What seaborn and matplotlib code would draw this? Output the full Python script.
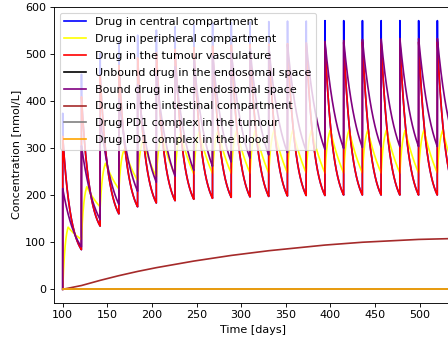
import numpy as np
import pandas as pd
import matplotlib
matplotlib.use("Agg")
import matplotlib.pyplot as plt
import seaborn as sns

# Dosing schedule (every 21 days) and per-cycle peak / trough concentrations [nmol/L]
dose_days = [100, 121, 142, 163, 184, 205, 226, 247, 268, 289, 310,
             331, 352, 373, 394, 415, 436, 457, 478, 499, 520]
cycle_len = 21

central_peak = [374, 457, 501, 524, 540, 551, 558, 562, 565, 567, 568,
                569, 570, 570, 571, 571, 571, 571, 571, 571, 571]

peripheral_peak = [132, 218, 268, 298, 316, 326, 331, 334, 336, 337, 338,
                   338, 338, 338, 338, 338, 338, 338, 338, 338, 338]
peripheral_trough = [106, 175, 213, 231, 239, 243, 245, 246, 246, 247, 247,
                     247, 247, 247, 247, 247, 247, 247, 247, 247, 247]

vasc_peak = [325, 409, 453, 476, 492, 503, 510, 514, 517, 519, 520,
             521, 522, 523, 524, 525, 526, 526, 526, 526, 526]
vasc_trough = [84, 134, 160, 175, 183, 188, 191, 193, 195, 196, 197,
               198, 199, 199, 200, 200, 200, 200, 200, 200, 200]

bound_peak = [214, 305, 365, 405, 435, 457, 473, 486, 496, 504, 511,
              516, 520, 524, 527, 529, 531, 532, 533, 533, 533]
bound_trough = [90, 148, 180, 208, 227, 240, 252, 261, 270, 278, 285,
                290, 294, 297, 299, 301, 302, 303, 303, 303, 303]

# Slowly accumulating intestinal compartment, sampled at each dose day
gut_days = dose_days + [541]
gut_conc = [0, 8, 19, 29, 38, 46, 53, 60, 66, 72, 77,
            82, 86, 90, 94, 97, 100, 102, 104, 106, 107, 108]

# Compartments that stay at zero over the whole run
zero_days = [100, 541]
unbound_endo = [0, 0]
pd1_tumour = [0, 0]
pd1_blood = [0, 0]

labels = ["Drug in central compartment", "Drug in peripheral compartment",
          "Drug in the tumour vasculature", "Unbound drug in the endosomal space",
          "Bound drug in the endosomal space", "Drug in the intestinal compartment",
          "Drug PD1 complex in the tumour", "Drug PD1 complex in the blood"]
colors = ["blue", "yellow", "red", "black", "purple", "brown", "grey", "orange"]


def washout(peak, trough, k, t):
    """Exponential elimination from the post-dose peak to the pre-dose trough."""
    tail = np.exp(-k * cycle_len)
    return trough + (peak - trough) * (np.exp(-k * t) - tail) / (1 - tail)


def uptake(start, peak, trough, t, t_peak=6.0, ka=0.35, k=0.03):
    """Delayed distribution into the peripheral compartment."""
    rise = start + (peak - start) * (1 - np.exp(-ka * t)) / (1 - np.exp(-ka * t_peak))
    fall = washout(peak, trough, k, np.clip(t - t_peak, 0, None) * cycle_len / (cycle_len - t_peak))
    return np.where(t <= t_peak, rise, fall)


t = np.arange(0, cycle_len, 0.1)
time, central, periph, vasc, bound = [], [], [], [], []
time.append(dose_days[0] - 0.01)
central.append(0.0); vasc.append(0.0); bound.append(0.0)
periph_time = []
for i, d in enumerate(dose_days):
    v = washout(vasc_peak[i], vasc_trough[i], 0.11, t)
    c = v.copy()
    c[0] = central_peak[i]
    b = washout(bound_peak[i], bound_trough[i], 0.065, t)
    start = 0.0 if i == 0 else peripheral_trough[i - 1]
    p = uptake(start, peripheral_peak[i], peripheral_trough[i], t)
    time.extend(d + t)
    central.extend(c); vasc.extend(v); bound.extend(b)
    periph_time.extend(d + t); periph.extend(p)

df_main = pd.DataFrame({"time": time, "central": central, "vasc": vasc, "bound": bound})
df_periph = pd.DataFrame({"time": periph_time, "periph": periph})

DPI = 80
fig = plt.figure(figsize=(448 / DPI, 342 / DPI), dpi=DPI)
ax = fig.add_axes([54 / 448, 1 - 302.7 / 342, (452 - 54) / 448, (302.7 - 7) / 342])

kw = dict(ax=ax, estimator=None, sort=False, linewidth=1.5)
sns.lineplot(data=df_main, x="time", y="central", color=colors[0], label=labels[0], **kw)
sns.lineplot(data=df_periph, x="time", y="periph", color=colors[1], label=labels[1], **kw)
sns.lineplot(data=df_main, x="time", y="vasc", color=colors[2], label=labels[2], **kw)
sns.lineplot(x=zero_days, y=unbound_endo, color=colors[3], label=labels[3], **kw)
sns.lineplot(data=df_main, x="time", y="bound", color=colors[4], label=labels[4], **kw)
sns.lineplot(x=gut_days, y=gut_conc, color=colors[5], label=labels[5], **kw)
sns.lineplot(x=zero_days, y=pd1_tumour, color=colors[6], label=labels[6], **kw)
sns.lineplot(x=zero_days, y=pd1_blood, color=colors[7], label=labels[7], **kw)

ax.set_xlim(90.2, 536.4)
ax.set_ylim(-28.5, 600)
ax.set_xticks([100, 150, 200, 250, 300, 350, 400, 450, 500])
ax.set_yticks([0, 100, 200, 300, 400, 500, 600])
ax.set_xlabel("Time [days]")
ax.set_ylabel("Concentration [nmol/L]")
ax.legend(loc="upper left", labelspacing=0.62)

fig.savefig("out.png", dpi=DPI)
